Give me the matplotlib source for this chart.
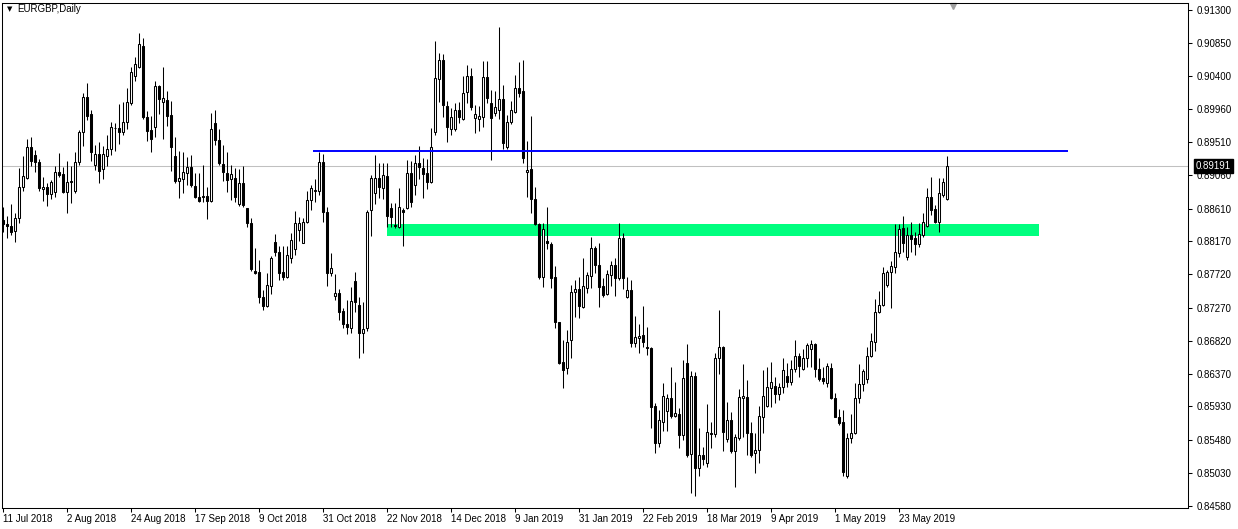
import numpy as np
import matplotlib.pyplot as plt
from matplotlib.patches import Rectangle

symbol = 'EURGBP,Daily'

# daily OHLC (11 Jul 2018 .. early Jun 2019)
opens = [
    0.8846, 0.8840, 0.8837, 0.8831, 0.8848, 0.8890, 0.8903, 0.8944, 0.8934, 0.8924,
    0.8888, 0.8890, 0.8881, 0.8884, 0.8911, 0.8908, 0.8884, 0.8897, 0.8885, 0.8924,
    0.8965, 0.9012, 0.8989, 0.8920, 0.8935, 0.8915, 0.8932, 0.8942, 0.8970, 0.8970,
    0.8965, 0.8978, 0.9004, 0.9041, 0.9053, 0.9081, 0.8985, 0.8968, 0.8972, 0.9027,
    0.9005, 0.9008, 0.8988, 0.8932, 0.8898, 0.8901, 0.8909, 0.8917, 0.8892, 0.8877,
    0.8878, 0.8878, 0.8871, 0.8977, 0.8954, 0.8921, 0.8909, 0.8901, 0.8903, 0.8867,
    0.8896, 0.8862, 0.8841, 0.8776, 0.8775, 0.8741, 0.8729, 0.8756, 0.8816, 0.8802,
    0.8775, 0.8768, 0.8794, 0.8806, 0.8832, 0.8814, 0.8843, 0.8873, 0.8885, 0.8885,
    0.8924, 0.8856, 0.8774, 0.8743, 0.8747, 0.8722, 0.8705, 0.8699, 0.8763, 0.8730,
    0.8692, 0.8699, 0.8859, 0.8882, 0.8903, 0.8889, 0.8905, 0.8862, 0.8839, 0.8836,
    0.8859, 0.8862, 0.8909, 0.8893, 0.8923, 0.8916, 0.8909, 0.8897, 0.8965, 0.9037,
    0.9062, 0.9000, 0.8969, 0.8969, 0.8995, 0.8982, 0.9019, 0.9041, 0.8984, 0.8982,
    0.8985, 0.9039, 0.9004, 0.8991, 0.8995, 0.9010, 0.8944, 0.8978, 0.8992, 0.9024,
    0.9020, 0.8911, 0.8915, 0.8874, 0.8840, 0.8768, 0.8817, 0.8813, 0.8768, 0.8707,
    0.8653, 0.8645, 0.8683, 0.8748, 0.8752, 0.8728, 0.8754, 0.8770, 0.8808, 0.8785,
    0.8756, 0.8745, 0.8771, 0.8785, 0.8767, 0.8821, 0.8741, 0.8751, 0.8679, 0.8686,
    0.8690, 0.8674, 0.8672, 0.8594, 0.8543, 0.8572, 0.8587, 0.8604, 0.8580, 0.8583,
    0.8554, 0.8652, 0.8528, 0.8634, 0.8510, 0.8527, 0.8516, 0.8557, 0.8556, 0.8659,
    0.8674, 0.8549, 0.8575, 0.8533, 0.8550, 0.8604, 0.8606, 0.8557, 0.8530, 0.8534,
    0.8579, 0.8594, 0.8618, 0.8621, 0.8610, 0.8619, 0.8634, 0.8626, 0.8644, 0.8661,
    0.8644, 0.8659, 0.8671, 0.8678, 0.8644, 0.8632, 0.8625, 0.8645, 0.8604, 0.8579,
    0.8572, 0.8499, 0.8550, 0.8557, 0.8604, 0.8623, 0.8630, 0.8661, 0.8680, 0.8721,
    0.8730, 0.8758, 0.8775, 0.8782, 0.8801, 0.8835, 0.8795, 0.8825, 0.8821, 0.8813,
    0.8825, 0.8837, 0.8877, 0.8861, 0.8843, 0.8879, 0.8874,
]
highs = [
    0.8863, 0.8851, 0.8867, 0.8855, 0.8916, 0.8932, 0.8955, 0.8958, 0.8940, 0.8928,
    0.8904, 0.8896, 0.8900, 0.8919, 0.8936, 0.8917, 0.8925, 0.8919, 0.8938, 0.8968,
    0.9018, 0.9031, 0.8995, 0.8947, 0.8951, 0.8946, 0.8961, 0.8978, 0.8977, 0.9003,
    0.9005, 0.9024, 0.9053, 0.9066, 0.9099, 0.9092, 0.8993, 0.8987, 0.9034, 0.9028,
    0.9053, 0.9020, 0.9007, 0.8958, 0.8939, 0.8938, 0.8931, 0.8934, 0.8909, 0.8909,
    0.8920, 0.8890, 0.8991, 0.8995, 0.8969, 0.8947, 0.8938, 0.8920, 0.8916, 0.8915,
    0.8919, 0.8862, 0.8848, 0.8808, 0.8791, 0.8751, 0.8774, 0.8797, 0.8827, 0.8810,
    0.8810, 0.8810, 0.8828, 0.8858, 0.8850, 0.8848, 0.8885, 0.8893, 0.8901, 0.8938,
    0.8935, 0.8863, 0.8801, 0.8772, 0.8752, 0.8726, 0.8737, 0.8755, 0.8775, 0.8741,
    0.8734, 0.8859, 0.8907, 0.8934, 0.8923, 0.8923, 0.8923, 0.8869, 0.8869, 0.8889,
    0.8862, 0.8927, 0.8925, 0.8934, 0.8946, 0.8930, 0.8928, 0.8970, 0.9088, 0.9072,
    0.9070, 0.9007, 0.8997, 0.9004, 0.9005, 0.9041, 0.9056, 0.9052, 0.9001, 0.9000,
    0.9061, 0.9061, 0.9022, 0.9020, 0.9107, 0.9028, 0.8988, 0.9007, 0.9042, 0.9060,
    0.9062, 0.8953, 0.8987, 0.8890, 0.8841, 0.8841, 0.8863, 0.8816, 0.8783, 0.8708,
    0.8683, 0.8697, 0.8758, 0.8764, 0.8768, 0.8794, 0.8775, 0.8822, 0.8810, 0.8814,
    0.8767, 0.8778, 0.8790, 0.8794, 0.8841, 0.8828, 0.8768, 0.8764, 0.8716, 0.8705,
    0.8729, 0.8701, 0.8673, 0.8598, 0.8588, 0.8625, 0.8610, 0.8646, 0.8626, 0.8591,
    0.8656, 0.8678, 0.8641, 0.8640, 0.8564, 0.8538, 0.8596, 0.8572, 0.8665, 0.8724,
    0.8675, 0.8599, 0.8585, 0.8556, 0.8617, 0.8650, 0.8629, 0.8572, 0.8557, 0.8594,
    0.8642, 0.8646, 0.8653, 0.8633, 0.8625, 0.8658, 0.8652, 0.8656, 0.8683, 0.8665,
    0.8671, 0.8679, 0.8683, 0.8679, 0.8658, 0.8646, 0.8652, 0.8652, 0.8611, 0.8590,
    0.8588, 0.8557, 0.8583, 0.8625, 0.8651, 0.8644, 0.8674, 0.8692, 0.8739, 0.8749,
    0.8782, 0.8778, 0.8790, 0.8840, 0.8840, 0.8851, 0.8836, 0.8843, 0.8829, 0.8841,
    0.8855, 0.8889, 0.8904, 0.8866, 0.8903, 0.8903, 0.8932,
]
lows = [
    0.8829, 0.8821, 0.8825, 0.8816, 0.8841, 0.8885, 0.8901, 0.8919, 0.8911, 0.8885,
    0.8871, 0.8865, 0.8874, 0.8877, 0.8904, 0.8882, 0.8855, 0.8869, 0.8882, 0.8920,
    0.8946, 0.8981, 0.8925, 0.8913, 0.8896, 0.8901, 0.8919, 0.8934, 0.8939, 0.8949,
    0.8961, 0.8969, 0.9001, 0.9034, 0.9052, 0.8982, 0.8953, 0.8938, 0.8958, 0.8989,
    0.8955, 0.8973, 0.8912, 0.8896, 0.8875, 0.8882, 0.8893, 0.8890, 0.8875, 0.8870,
    0.8870, 0.8847, 0.8870, 0.8947, 0.8920, 0.8898, 0.8884, 0.8873, 0.8870, 0.8865,
    0.8863, 0.8836, 0.8776, 0.8772, 0.8733, 0.8724, 0.8728, 0.8745, 0.8797, 0.8764,
    0.8764, 0.8767, 0.8787, 0.8798, 0.8817, 0.8814, 0.8841, 0.8859, 0.8870, 0.8879,
    0.8843, 0.8756, 0.8770, 0.8737, 0.8710, 0.8699, 0.8691, 0.8692, 0.8721, 0.8658,
    0.8665, 0.8695, 0.8824, 0.8867, 0.8875, 0.8874, 0.8836, 0.8836, 0.8835, 0.8835,
    0.8810, 0.8860, 0.8863, 0.8879, 0.8901, 0.8875, 0.8888, 0.8896, 0.8961, 0.9005,
    0.8985, 0.8951, 0.8961, 0.8966, 0.8977, 0.8981, 0.9004, 0.8995, 0.8963, 0.8966,
    0.8972, 0.9004, 0.8927, 0.8987, 0.8982, 0.8942, 0.8942, 0.8976, 0.8991, 0.9012,
    0.8923, 0.8877, 0.8855, 0.8839, 0.8766, 0.8755, 0.8806, 0.8754, 0.8699, 0.8651,
    0.8618, 0.8637, 0.8658, 0.8714, 0.8713, 0.8727, 0.8747, 0.8754, 0.8774, 0.8728,
    0.8741, 0.8744, 0.8756, 0.8743, 0.8764, 0.8752, 0.8740, 0.8674, 0.8674, 0.8665,
    0.8674, 0.8663, 0.8564, 0.8530, 0.8538, 0.8560, 0.8560, 0.8577, 0.8579, 0.8537,
    0.8548, 0.8524, 0.8476, 0.8472, 0.8499, 0.8514, 0.8511, 0.8537, 0.8552, 0.8637,
    0.8533, 0.8545, 0.8530, 0.8484, 0.8548, 0.8552, 0.8527, 0.8524, 0.8503, 0.8516,
    0.8557, 0.8592, 0.8592, 0.8598, 0.8602, 0.8611, 0.8619, 0.8622, 0.8640, 0.8633,
    0.8642, 0.8646, 0.8646, 0.8633, 0.8627, 0.8623, 0.8619, 0.8603, 0.8578, 0.8568,
    0.8499, 0.8496, 0.8543, 0.8556, 0.8598, 0.8614, 0.8625, 0.8660, 0.8668, 0.8720,
    0.8729, 0.8755, 0.8726, 0.8774, 0.8795, 0.8802, 0.8791, 0.8802, 0.8798, 0.8809,
    0.8822, 0.8836, 0.8852, 0.8841, 0.8829, 0.8877, 0.8873,
]
closes = [
    0.8840, 0.8837, 0.8829, 0.8848, 0.8890, 0.8905, 0.8944, 0.8925, 0.8924, 0.8889,
    0.8890, 0.8881, 0.8897, 0.8911, 0.8907, 0.8884, 0.8897, 0.8898, 0.8924, 0.8965,
    0.9012, 0.8987, 0.8938, 0.8935, 0.8912, 0.8935, 0.8942, 0.8972, 0.8970, 0.8965,
    0.8978, 0.9005, 0.9046, 0.9057, 0.9084, 0.8985, 0.8966, 0.8955, 0.9027, 0.9010,
    0.9011, 0.8987, 0.8944, 0.8898, 0.8903, 0.8911, 0.8917, 0.8893, 0.8877, 0.8871,
    0.8877, 0.8871, 0.8969, 0.8954, 0.8923, 0.8911, 0.8900, 0.8908, 0.8877, 0.8896,
    0.8866, 0.8841, 0.8779, 0.8774, 0.8741, 0.8729, 0.8758, 0.8794, 0.8802, 0.8774,
    0.8768, 0.8798, 0.8818, 0.8841, 0.8841, 0.8843, 0.8873, 0.8889, 0.8886, 0.8924,
    0.8856, 0.8774, 0.8781, 0.8747, 0.8721, 0.8705, 0.8701, 0.8736, 0.8734, 0.8692,
    0.8698, 0.8856, 0.8903, 0.8903, 0.8890, 0.8907, 0.8851, 0.8850, 0.8837, 0.8863,
    0.8856, 0.8909, 0.8870, 0.8923, 0.8917, 0.8908, 0.8897, 0.8944, 0.9038, 0.9062,
    0.9001, 0.8972, 0.8985, 0.8995, 0.8985, 0.9018, 0.9041, 0.8999, 0.8989, 0.8987,
    0.9039, 0.9011, 0.8984, 0.8999, 0.9010, 0.8950, 0.8978, 0.8995, 0.9024, 0.9018,
    0.8930, 0.8913, 0.8874, 0.8840, 0.8768, 0.8833, 0.8814, 0.8767, 0.8707, 0.8652,
    0.8642, 0.8680, 0.8748, 0.8752, 0.8729, 0.8756, 0.8771, 0.8808, 0.8785, 0.8755,
    0.8744, 0.8772, 0.8785, 0.8767, 0.8821, 0.8767, 0.8751, 0.8679, 0.8687, 0.8688,
    0.8680, 0.8672, 0.8592, 0.8543, 0.8575, 0.8607, 0.8604, 0.8580, 0.8584, 0.8554,
    0.8632, 0.8527, 0.8634, 0.8510, 0.8527, 0.8522, 0.8558, 0.8556, 0.8659, 0.8674,
    0.8558, 0.8575, 0.8533, 0.8552, 0.8606, 0.8607, 0.8557, 0.8527, 0.8534, 0.8580,
    0.8607, 0.8619, 0.8626, 0.8610, 0.8619, 0.8642, 0.8626, 0.8644, 0.8661, 0.8648,
    0.8659, 0.8676, 0.8678, 0.8644, 0.8630, 0.8627, 0.8648, 0.8604, 0.8579, 0.8571,
    0.8504, 0.8550, 0.8557, 0.8604, 0.8623, 0.8641, 0.8661, 0.8682, 0.8721, 0.8730,
    0.8774, 0.8775, 0.8783, 0.8802, 0.8833, 0.8814, 0.8825, 0.8820, 0.8813, 0.8827,
    0.8843, 0.8877, 0.8859, 0.8843, 0.8882, 0.8897, 0.8919,
]

date_labels = ['11 Jul 2018', '2 Aug 2018', '24 Aug 2018', '17 Sep 2018', '9 Oct 2018',
               '31 Oct 2018', '22 Nov 2018', '14 Dec 2018', '9 Jan 2019', '31 Jan 2019',
               '22 Feb 2019', '18 Mar 2019', '9 Apr 2019', '1 May 2019', '23 May 2019']
label_step = 16  # bars between date labels

price_ticks = [0.91300, 0.90850, 0.90400, 0.89960, 0.89510, 0.89060, 0.88610, 0.88170,
               0.87720, 0.87270, 0.86820, 0.86370, 0.85930, 0.85480, 0.85030, 0.84580]

bid = 0.89191
resistance = 0.8939          # blue horizontal line
resistance_bars = (77.5, 266.25)
zone = (0.88238, 0.88401)    # green support zone
zone_bars = (96, 259)

plt.rcParams['font.family'] = ['Liberation Sans', 'DejaVu Sans']

o = np.array(opens)
h = np.array(highs)
l = np.array(lows)
c = np.array(closes)
x = np.arange(len(c))
up = c >= o

fig = plt.figure(figsize=(12.38, 5.29), dpi=100)
ax = fig.add_axes([2 / 1238, 21 / 529, 1186 / 1238, 505 / 529])

ax.axhline(bid, color='#c0c0c0', lw=0.75, zorder=1)
ax.add_patch(Rectangle((zone_bars[0], zone[0]), zone_bars[1] - zone_bars[0], zone[1] - zone[0],
                       facecolor='#00ff7f', edgecolor='none', zorder=1))

ax.vlines(x, np.minimum(l, np.minimum(o, c)), np.maximum(h, np.maximum(o, c)),
          color='black', lw=0.75, zorder=2)
body = np.maximum(np.abs(c - o), 0.00002)
ax.bar(x, body, bottom=np.minimum(o, c), width=0.5,
       color=np.where(up, 'white', 'black'), edgecolor='black', linewidth=0.75, zorder=3)

ax.hlines(resistance, resistance_bars[0], resistance_bars[1], color='#0000ff', lw=1.4, zorder=4)

ax.set_xlim(-0.25, 296.25)
ax.set_ylim(0.84554, 0.91395)

ax.yaxis.tick_right()
ax.set_yticks(price_ticks)
ax.set_yticklabels([f'{p:.5f}' for p in price_ticks])
ax.tick_params(axis='y', direction='out', length=3, width=0.75, pad=3.5, labelsize=7)

ax.set_xticks(np.arange(len(date_labels)) * label_step)
ax.set_xticklabels(date_labels)
for lbl in ax.get_xticklabels():
    lbl.set_horizontalalignment('left')
ax.tick_params(axis='x', direction='out', length=3, width=0.75, pad=1, labelsize=7)

for s in ax.spines.values():
    s.set_linewidth(0.75)
    s.set_color('black')

ax.annotate(f'{bid:.5f}', xy=(1, bid), xycoords=('axes fraction', 'data'),
            xytext=(5.5, 0), textcoords='offset points', va='center', ha='left',
            color='white', fontsize=7, annotation_clip=False,
            bbox=dict(boxstyle='square,pad=0.2', fc='black', ec='black'))

ax.text(0.004, 0.988, '\u25bc', transform=ax.transAxes, fontsize=5, va='center',
        family='DejaVu Sans')
ax.text(0.0128, 0.988, symbol, transform=ax.transAxes, fontsize=7, va='center')

# chart shift marker
ax.plot([len(c) + 0.5], [0.995], marker='v', color='#a0a0a0', markersize=5,
        transform=ax.get_xaxis_transform(), clip_on=False)

fig.savefig('out.png', dpi=100, facecolor='white')
